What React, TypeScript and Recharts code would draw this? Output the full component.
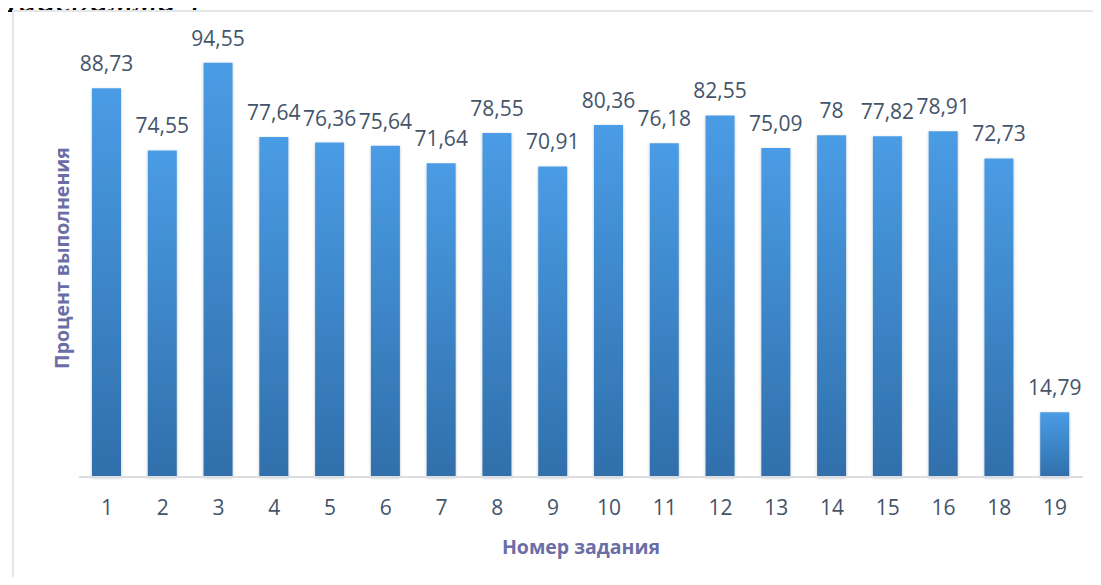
import { BarChart, Bar, XAxis, YAxis, LabelList } from "recharts"

const tasks = ["1", "2", "3", "4", "5", "6", "7", "8", "9", "10", "11", "12", "13", "14", "15", "16", "18", "19"]
const percents = [88.73, 74.55, 94.55, 77.64, 76.36, 75.64, 71.64, 78.55, 70.91, 80.36, 76.18, 82.55, 75.09, 78, 77.82, 78.91, 72.73, 14.79]

const data = tasks.map((task, i) => ({ task, value: percents[i] }))

const textColor = "#44546A"
const titleColor = "#6B6EA6"
const font = "'Open Sans', sans-serif"

const fmt = (v: any) => String(v).replace(".", ",")

export default function App() {
  return (
    <div style={{ margin: -8, width: 1101, height: 585, position: "relative", overflow: "hidden", background: "#fff" }}>
      <div
        style={{
          position: "absolute", left: -6, top: -19, fontFamily: "'Liberation Serif', serif",
          fontStyle: "italic", fontSize: 38, color: "#000", lineHeight: "36px", whiteSpace: "nowrap",
        }}
      >
        Диаграмма 1
      </div>
      <div style={{ position: "absolute", left: 12, top: 10, width: 1200, height: 700, border: "2px solid #E3E6EA", background: "#fff" }} />
      <div style={{ position: "absolute", left: 0, top: 0 }}>
        <BarChart width={1101} height={585} data={data} margin={{ top: 39, right: 18, left: 79, bottom: 48 }}>
          <defs>
            <linearGradient id="barFill" x1="0" y1="0" x2="0" y2="1">
              <stop offset="0%" stopColor="#4A9CE5" />
              <stop offset="100%" stopColor="#306FAB" />
            </linearGradient>
            <filter id="barShadow" x="-30%" y="-5%" width="160%" height="115%">
              <feDropShadow dx="0" dy="1" stdDeviation="1.5" floodColor="#000" floodOpacity="0.25" />
            </filter>
          </defs>
          <XAxis
            dataKey="task"
            height={60}
            tickLine={false}
            tickSize={0}
            tickMargin={23}
            axisLine={{ stroke: "#DADDE2", strokeWidth: 2 }}
            tick={{ fill: textColor, fontSize: 21, fontFamily: font }}
            interval={0}
          />
          <YAxis hide domain={[0, 100]} />
          <Bar dataKey="value" barSize={29} fill="url(#barFill)" filter="url(#barShadow)" isAnimationActive={false}>
            <LabelList
              dataKey="value"
              position="top"
              offset={17}
              formatter={fmt}
              style={{ fill: textColor, fontSize: 21, fontFamily: font }}
            />
          </Bar>
        </BarChart>
      </div>
      <div
        style={{
          position: "absolute", left: 581, top: 546, transform: "translate(-50%, -50%)",
          fontFamily: font, fontWeight: 700, fontSize: 19.5, color: titleColor, whiteSpace: "nowrap",
        }}
      >
        Номер задания
      </div>
      <div
        style={{
          position: "absolute", left: 61, top: 258, transform: "translate(-50%, -50%) rotate(-90deg)",
          fontFamily: font, fontWeight: 700, fontSize: 19.5, color: titleColor, whiteSpace: "nowrap",
        }}
      >
        Процент выполнения
      </div>
    </div>
  )
}
